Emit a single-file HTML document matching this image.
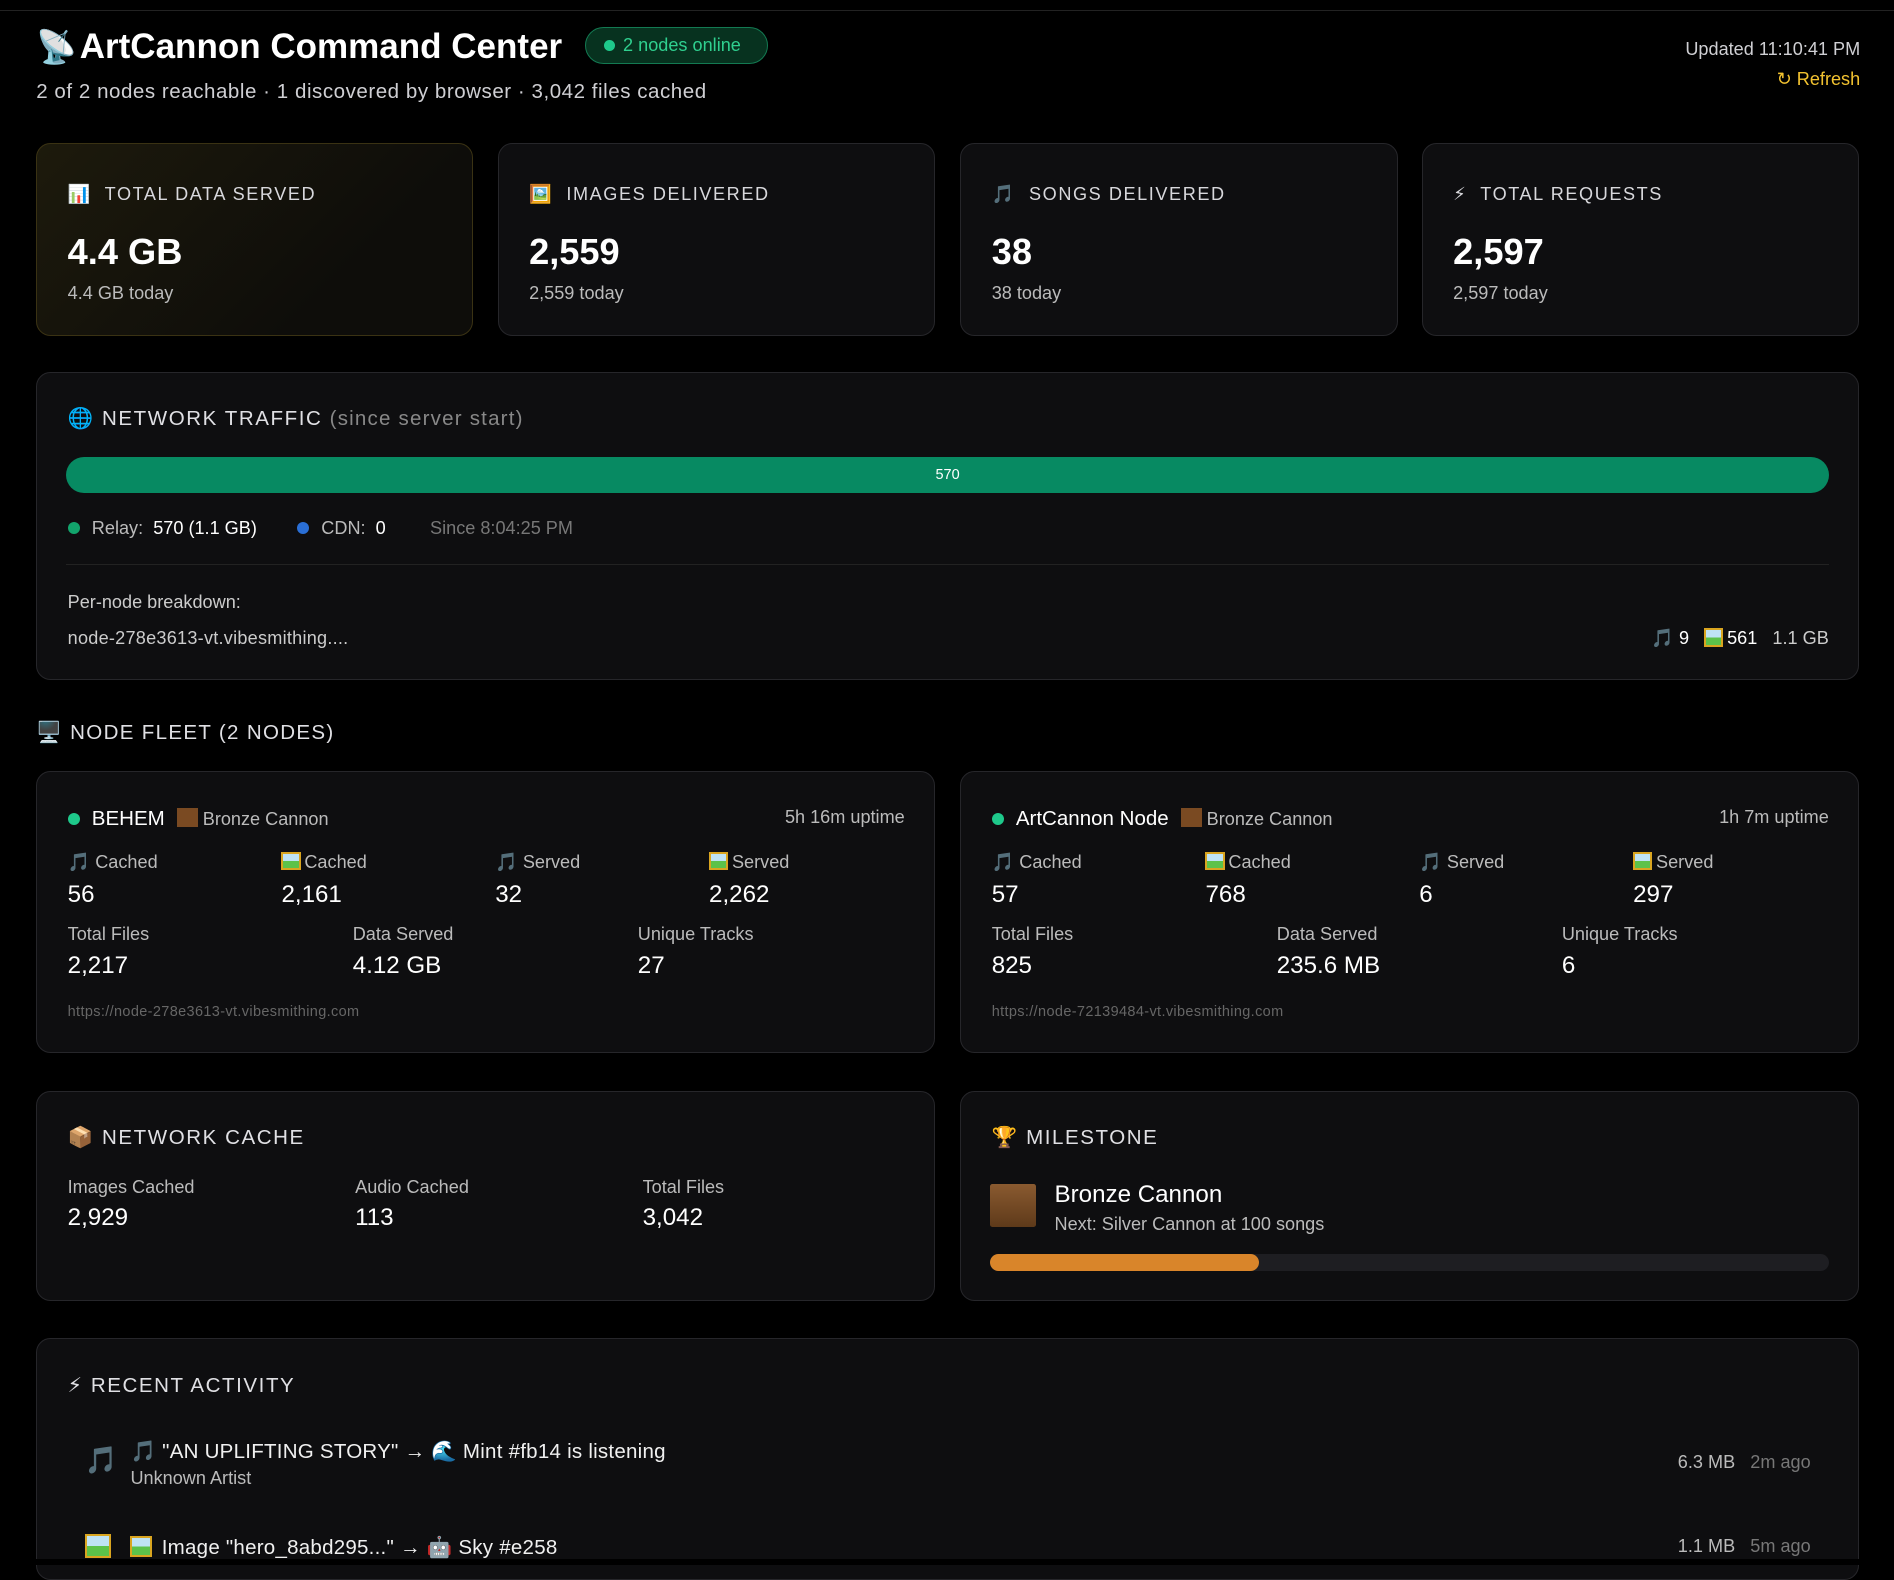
<!DOCTYPE html>
<html><head><meta charset="utf-8"><style>
html,body{margin:0;padding:0;background:#000;}
body{width:1568px;height:1296px;zoom:1.20791;overflow:hidden;position:relative;font-family:"Liberation Sans","DejaVu Sans",sans-serif;color:#e8e8ea;}
.a{position:absolute;white-space:nowrap;}
.card{position:absolute;background:#0e0e10;border:1px solid #26262a;border-radius:12px;box-sizing:border-box;}
.lbl{font-size:15px;letter-spacing:1.3px;color:#d8d8dc;}
.big{font-size:30px;font-weight:bold;color:#fff;}
.sub{font-size:15px;color:#bbb;}
.g{color:#bbb}
.pic{display:inline-block;width:16px;height:15px;background:linear-gradient(#bfe3f5 50%,#5cc24a 50%);border:2px solid #d9a520;box-sizing:border-box;vertical-align:-2px;margin-right:3px;}
.br{display:inline-block;width:17px;height:16px;background:#7a4a22;vertical-align:-2px;margin-right:4px;}
.dot{display:inline-block;width:10px;height:10px;border-radius:50%;background:#1ec98b;}
</style></head><body>
<div class="a" style="left:0;top:8px;width:1568px;height:1px;background:#222"></div>
<div class="a" style="left:30px;top:23px;font-size:27px">📡</div>
<div class="a" style="left:66px;top:22px;font-size:29px;font-weight:bold;color:#fff">ArtCannon Command Center</div>
<div class="a" style="left:484px;top:22px;width:152px;height:31px;box-sizing:border-box;border:1px solid #137a52;background:#07321f;border-radius:16px;font-size:15px;color:#2fd08f;line-height:29px;padding-left:15px"><span class="dot" style="width:9px;height:9px;margin-right:7px"></span>2 nodes online</div>
<div class="a" style="left:30px;top:66px;font-size:17px;color:#cfcfd3;letter-spacing:0.45px">2 of 2 nodes reachable · 1 discovered by browser · 3,042 files cached</div>
<div class="a" style="right:28px;top:32px;font-size:15px;color:#cfcfd3">Updated 11:10:41 PM</div>
<div class="a" style="right:28px;top:57px;font-size:15px;color:#f2c230">↻ Refresh</div>

<div class="card" style="left:30px;top:118px;width:362px;height:160px;background:linear-gradient(135deg,#1d1a0c,#0e0d0a 70%);border-color:#3a3213"></div>
<div class="card" style="left:412px;top:118px;width:362px;height:160px"></div>
<div class="card" style="left:795px;top:118px;width:362px;height:160px"></div>
<div class="card" style="left:1177px;top:118px;width:362px;height:160px"></div>
<div class="a lbl" style="left:56px;top:152px">📊&nbsp; TOTAL DATA SERVED</div>
<div class="a lbl" style="left:438px;top:152px">🖼️&nbsp; IMAGES DELIVERED</div>
<div class="a lbl" style="left:821px;top:152px">🎵&nbsp; SONGS DELIVERED</div>
<div class="a lbl" style="left:1203px;top:152px">⚡&nbsp; TOTAL REQUESTS</div>
<div class="a big" style="left:56px;top:191px">4.4 GB</div>
<div class="a big" style="left:438px;top:191px">2,559</div>
<div class="a big" style="left:821px;top:191px">38</div>
<div class="a big" style="left:1203px;top:191px">2,597</div>
<div class="a sub" style="left:56px;top:234px">4.4 GB today</div>
<div class="a sub" style="left:438px;top:234px">2,559 today</div>
<div class="a sub" style="left:821px;top:234px">38 today</div>
<div class="a sub" style="left:1203px;top:234px">2,597 today</div>

<div class="card" style="left:30px;top:308px;width:1509px;height:255px"></div>
<div class="a" style="left:56px;top:337px;font-size:17px;letter-spacing:1.3px;color:#e0e0e4">🌐 NETWORK TRAFFIC <span style="color:#888;letter-spacing:1px">(since server start)</span></div>
<div class="a" style="left:55px;top:378px;width:1459px;height:30px;border-radius:15px;background:#078a62;color:#fff;font-size:12px;text-align:center;line-height:31px">570</div>
<div class="a" style="left:56px;top:429px;font-size:15px;color:#bbb"><span class="dot" style="background:#12a46c;margin-right:10px"></span>Relay:&nbsp; <span style="color:#fff">570 (1.1 GB)</span></div>
<div class="a" style="left:246px;top:429px;font-size:15px;color:#bbb"><span class="dot" style="background:#2a6fd6;margin-right:10px"></span>CDN:&nbsp; <span style="color:#fff">0</span></div>
<div class="a" style="left:356px;top:429px;font-size:15px;color:#777">Since 8:04:25 PM</div>
<div class="a" style="left:55px;top:467px;width:1459px;height:1px;background:#222"></div>
<div class="a" style="left:56px;top:490px;font-size:15px;color:#ccc">Per-node breakdown:</div>
<div class="a" style="left:56px;top:520px;font-size:15px;color:#ccc;letter-spacing:0.2px">node-278e3613-vt.vibesmithing....</div>
<div class="a" style="right:54px;top:520px;font-size:15px;color:#ccc">🎵 <span style="color:#fff">9</span> &nbsp; <span class="pic"></span><span style="color:#fff">561</span> &nbsp; 1.1 GB</div>

<div class="a" style="left:30px;top:597px;font-size:17px;letter-spacing:1.1px;color:#e0e0e4">🖥️ NODE FLEET (2 NODES)</div>

<div class="card" style="left:30px;top:638px;width:744px;height:234px"></div>
<div class="card" style="left:795px;top:638px;width:744px;height:234px"></div>
<div class="a" style="left:56px;top:668px;font-size:16px"><span class="dot" style="margin-right:10px"></span><span style="font-size:17px;color:#fff">BEHEM</span> <span class="br" style="margin-left:6px"></span><span class="g" style="font-size:15px">Bronze Cannon</span></div>
<div class="a g" style="right:819px;top:668px;font-size:15px">5h 16m uptime</div>
<div class="a" style="left:821px;top:668px;font-size:16px"><span class="dot" style="margin-right:10px"></span><span style="font-size:17px;color:#fff">ArtCannon Node</span> <span class="br" style="margin-left:6px"></span><span class="g" style="font-size:15px">Bronze Cannon</span></div>
<div class="a g" style="right:54px;top:668px;font-size:15px">1h 7m uptime</div>

<div class="a g" style="left:56px;top:705px;font-size:15px">🎵 Cached</div>
<div class="a g" style="left:233px;top:705px;font-size:15px"><span class="pic"></span>Cached</div>
<div class="a g" style="left:410px;top:705px;font-size:15px">🎵 Served</div>
<div class="a g" style="left:587px;top:705px;font-size:15px"><span class="pic"></span>Served</div>
<div class="a" style="left:56px;top:729px;font-size:20px;color:#fff">56</div>
<div class="a" style="left:233px;top:729px;font-size:20px;color:#fff">2,161</div>
<div class="a" style="left:410px;top:729px;font-size:20px;color:#fff">32</div>
<div class="a" style="left:587px;top:729px;font-size:20px;color:#fff">2,262</div>
<div class="a g" style="left:56px;top:765px;font-size:15px">Total Files</div>
<div class="a g" style="left:292px;top:765px;font-size:15px">Data Served</div>
<div class="a g" style="left:528px;top:765px;font-size:15px">Unique Tracks</div>
<div class="a" style="left:56px;top:788px;font-size:20px;color:#fff">2,217</div>
<div class="a" style="left:292px;top:788px;font-size:20px;color:#fff">4.12 GB</div>
<div class="a" style="left:528px;top:788px;font-size:20px;color:#fff">27</div>
<div class="a" style="left:56px;top:831px;font-size:12px;color:#666;letter-spacing:0.3px">https://node-278e3613-vt.vibesmithing.com</div>

<div class="a g" style="left:821px;top:705px;font-size:15px">🎵 Cached</div>
<div class="a g" style="left:998px;top:705px;font-size:15px"><span class="pic"></span>Cached</div>
<div class="a g" style="left:1175px;top:705px;font-size:15px">🎵 Served</div>
<div class="a g" style="left:1352px;top:705px;font-size:15px"><span class="pic"></span>Served</div>
<div class="a" style="left:821px;top:729px;font-size:20px;color:#fff">57</div>
<div class="a" style="left:998px;top:729px;font-size:20px;color:#fff">768</div>
<div class="a" style="left:1175px;top:729px;font-size:20px;color:#fff">6</div>
<div class="a" style="left:1352px;top:729px;font-size:20px;color:#fff">297</div>
<div class="a g" style="left:821px;top:765px;font-size:15px">Total Files</div>
<div class="a g" style="left:1057px;top:765px;font-size:15px">Data Served</div>
<div class="a g" style="left:1293px;top:765px;font-size:15px">Unique Tracks</div>
<div class="a" style="left:821px;top:788px;font-size:20px;color:#fff">825</div>
<div class="a" style="left:1057px;top:788px;font-size:20px;color:#fff">235.6 MB</div>
<div class="a" style="left:1293px;top:788px;font-size:20px;color:#fff">6</div>
<div class="a" style="left:821px;top:831px;font-size:12px;color:#666;letter-spacing:0.3px">https://node-72139484-vt.vibesmithing.com</div>

<div class="card" style="left:30px;top:903px;width:744px;height:174px"></div>
<div class="card" style="left:795px;top:903px;width:744px;height:174px"></div>
<div class="a" style="left:56px;top:932px;font-size:17px;letter-spacing:1.3px;color:#e0e0e4">📦 NETWORK CACHE</div>
<div class="a g" style="left:56px;top:974px;font-size:15px">Images Cached</div>
<div class="a g" style="left:294px;top:974px;font-size:15px">Audio Cached</div>
<div class="a g" style="left:532px;top:974px;font-size:15px">Total Files</div>
<div class="a" style="left:56px;top:997px;font-size:20px;color:#fff">2,929</div>
<div class="a" style="left:294px;top:997px;font-size:20px;color:#fff">113</div>
<div class="a" style="left:532px;top:997px;font-size:20px;color:#fff">3,042</div>
<div class="a" style="left:821px;top:932px;font-size:17px;letter-spacing:1.3px;color:#e0e0e4">🏆 MILESTONE</div>
<div class="a" style="left:820px;top:980px;width:38px;height:36px;background:linear-gradient(#8a5a30,#5e3a1a);border-radius:2px"></div>
<div class="a" style="left:873px;top:978px;font-size:20px;color:#fff">Bronze Cannon</div>
<div class="a g" style="left:873px;top:1005px;font-size:15px">Next: Silver Cannon at 100 songs</div>
<div class="a" style="left:820px;top:1038px;width:694px;height:14px;border-radius:7px;background:#1e1e22"></div>
<div class="a" style="left:820px;top:1038px;width:222px;height:14px;border-radius:7px;background:#d9852a"></div>

<div class="card" style="left:30px;top:1108px;width:1509px;height:200px"></div>
<div class="a" style="left:56px;top:1137px;font-size:17px;letter-spacing:1.3px;color:#e0e0e4">⚡ RECENT ACTIVITY</div>
<div class="a" style="left:70px;top:1196px;font-size:22px;color:#999">🎵</div>
<div class="a" style="left:108px;top:1192px;font-size:17px;color:#f0f0f0;letter-spacing:0.2px">🎵 "AN UPLIFTING STORY" → 🌊 Mint #fb14 is listening</div>
<div class="a g" style="left:108px;top:1215px;font-size:15px">Unknown Artist</div>
<div class="a g" style="right:69px;top:1202px;font-size:15px">6.3 MB &nbsp; <span style="color:#777">2m ago</span></div>
<div class="a" style="left:70px;top:1270px"><span class="pic" style="width:22px;height:20px"></span></div>
<div class="a" style="left:108px;top:1272px;font-size:17px;color:#f0f0f0;letter-spacing:0.2px"><span class="pic" style="width:18px;height:17px"></span> Image "hero_8abd295..." → 🤖 Sky #e258</div>
<div class="a g" style="right:69px;top:1272px;font-size:15px">1.1 MB &nbsp; <span style="color:#777">5m ago</span></div>
<div class="a" style="left:0;top:1291px;width:1568px;height:5px;background:#000"></div>
</body></html>
